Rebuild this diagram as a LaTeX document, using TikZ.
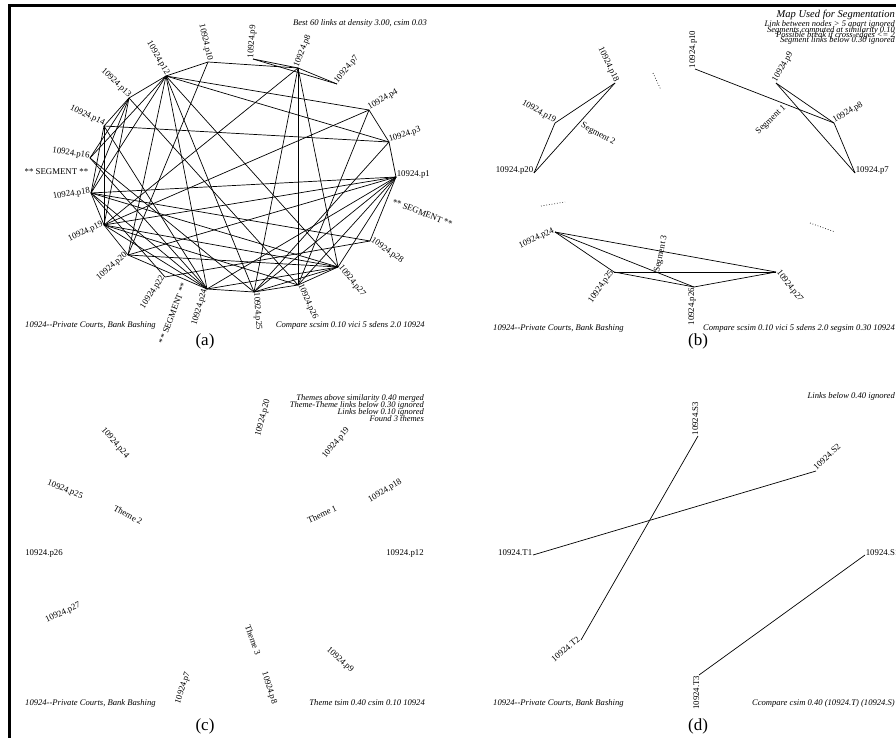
\documentclass[tikz,border=0pt]{standalone}
\usepackage{fontspec}
\setmainfont{Liberation Serif}
\begin{document}
\begin{tikzpicture}[x=1pt,y=-1pt,
  lab/.style={font=\fontsize{8.8}{9}\selectfont, inner sep=0.6pt},
  it/.style={font=\fontsize{8.6}{9}\selectfont\itshape, inner sep=0pt},
  sm/.style={font=\fontsize{8.5}{8}\selectfont\itshape, inner sep=0pt},
  big/.style={font=\fontsize{10.5}{11}\selectfont\itshape, inner sep=0pt},
  link/.style={line width=0.7pt},
  dotl/.style={line width=0.7pt, dotted},
  capt/.style={font=\fontsize{17}{17}\selectfont, inner sep=0pt},
  frame/.style={line width=2.7pt}]
\useasboundingbox (0,0) rectangle (896,738);
% frame
\coordinate (f1) at (9.7,738); \coordinate (f2) at (9.7,5.3); \coordinate (f3) at (896,5.3);
\draw[frame] (f1) -- (f2) -- (f3);

% ================= panel (a)
\foreach \n/\x/\y in {1/396/177, 3/389/142, 4/369/110, 7/337/84, 8/298/68, 9/253/59,
  10/208/62, 12/166/76, 13/129/98, 14/104/126, 16/90/158, 18/91/193, 19/104/225,
  20/128/255, 22/165/277, 24/207/289, 25/254/292, 26/298/285, 27/338/267, 28/370/241}
  \coordinate (p\n) at (\x,\y);
\foreach \a/\b in {12/10, 10/8, 9/8, 9/7, 8/7, 12/4, 12/3, 4/3, 3/1, 14/3,
  8/26, 8/27, 8/19, 8/25, 4/19, 4/26, 3/25, 10/20, 12/13, 13/14,
  14/19, 13/16, 13/18, 13/19, 13/26, 12/16, 12/18, 12/20, 12/24, 12/25,
  12/27, 14/18, 14/24, 16/24, 16/25, 18/19, 18/1, 18/28, 18/27, 18/24,
  19/1, 19/27, 19/20, 19/24, 20/24, 20/1, 22/28, 18/22, 24/25, 24/27,
  24/1, 25/26, 25/27, 25/1, 26/27, 26/1, 27/1, 28/1, 19/26, 20/27}
  \draw[link] (p\a) -- (p\b);
\foreach \n/\r in {1/0, 3/18, 4/30, 7/50, 8/68, 9/86, 28/-35, 27/-51, 26/-66, 25/-86}
  \node[lab, anchor=base west, rotate=\r] (La\n) at (p\n) {10924.p\n};
\foreach \n/\r in {10/-77, 12/-60, 13/-43, 14/-26, 16/-8, 18/9, 19/26, 20/41, 22/57, 24/74}
  \node[lab, anchor=base east, rotate=\r] (La\n) at (p\n) {10924.p\n};
\node[it, anchor=base east] (atop) at (427,26) {Best 60 links at density 3.00, csim 0.03};
\node[lab, anchor=base east] (segL) at (89,175) {** SEGMENT **};
\node[lab, anchor=base west, rotate=-21] (segR) at (391,204) {** SEGMENT **};
\node[lab, anchor=base east, rotate=69] (segB) at (187,284) {** SEGMENT **};
\node[it, anchor=base west] (abl) at (25,327) {10924{-}{-}Private Courts, Bank Bashing};
\node[it, anchor=base east] (abr) at (425,327) {Compare scsim 0.10 vici 5 sdens 2.0 10924};
\node[capt] (capa) at (205,341) {(a)};

% ================= panel (b)
\foreach \n/\x/\y in {18/615/83, 19/555/123, 20/534/173, 10/695/69, 9/776/83, 8/834/123,
  7/855/173, 24/555/232, 25/614/272, 26/694/287, 27/776/272}
  \coordinate (q\n) at (\x,\y);
\foreach \a/\b in {18/19, 18/20, 19/20, 10/8, 9/8, 9/7, 8/7,
  24/27, 24/25, 24/26, 25/27, 25/26, 26/27}
  \draw[link] (q\a) -- (q\b);
\foreach \n/\r in {10/90, 9/60, 8/30, 7/0, 27/-52}
  \node[lab, anchor=base west, rotate=\r] (Lb\n) at (q\n) {10924.p\n};
\foreach \n/\r in {18/-64, 19/-29, 20/0, 24/25, 25/55, 26/90}
  \node[lab, anchor=base east, rotate=\r] (Lb\n) at (q\n) {10924.p\n};
\node[lab, rotate=-28] (seg2) at (598,134) {Segment 2};
\node[lab, rotate=43] (seg1) at (771,120) {Segment 1};
\node[lab, rotate=78] (seg3) at (661,254) {Segment 3};
\coordinate (d1a) at (653,73); \coordinate (d1b) at (661,90);
\coordinate (d2a) at (541,206); \coordinate (d2b) at (565,202);
\coordinate (d3a) at (810,223); \coordinate (d3b) at (835,232);
\draw[dotl] (d1a) -- (d1b);
\draw[dotl] (d2a) -- (d2b);
\draw[dotl] (d3a) -- (d3b);
\node[big, anchor=base east] (bt0) at (895,18) {Map Used for Segmentation};
\node[sm, anchor=base east] (bt1) at (895,27) {Link between nodes > 5 apart ignored};
\node[sm, anchor=base east] (bt2) at (895,33) {Segments computed at similarity 0.10};
\node[sm, anchor=base east] (bt3) at (895,38) {Possible break if cross-edges <= 2};
\node[sm, anchor=base east] (bt4) at (895,43) {Segment links below 0.30 ignored};
\node[it, anchor=base west] (bbl) at (493,330) {10924{-}{-}Private Courts, Bank Bashing};
\node[it, anchor=base east] (bbr) at (895,330) {Compare scsim 0.10 vici 5 sdens 2.0 segsim 0.30 10924};
\node[capt] (capb) at (698,341) {(b)};

% ================= panel (c)
\node[sm, anchor=base east] (ct1) at (424,400) {Themes above similarity 0.40 merged};
\node[sm, anchor=base east] (ct2) at (424,407) {Theme-Theme links below 0.30 ignored};
\node[sm, anchor=base east] (ct3) at (424,414) {Links below 0.10 ignored};
\node[sm, anchor=base east] (ct4) at (424,421) {Found 3 themes};
\node[lab, rotate=75] (Lc20) at (263,418) {10924.p20};
\node[lab, rotate=50] (Lc19) at (336,443) {10924.p19};
\node[lab, rotate=31] (Lc18) at (385,491) {10924.p18};
\node[lab] (Lc12) at (405,554) {10924.p12};
\node[lab, rotate=-49] (Lc24) at (115,443) {10924.p24};
\node[lab, rotate=-22] (Lc25) at (65,490) {10924.p25};
\node[lab] (Lc26) at (44,554) {10924.p26};
\node[lab, rotate=25] (Lc27) at (63,613) {10924.p27};
\node[lab, rotate=72] (Lc7) at (183,688) {10924.p7};
\node[lab, rotate=-72] (Lc8) at (269,688) {10924.p8};
\node[lab, rotate=-42] (Lc9) at (340,660) {10924.p9};
\node[lab, rotate=25] (th1) at (322,514) {Theme 1};
\node[lab, rotate=-28] (th2) at (128,515) {Theme 2};
\node[lab, rotate=-70] (th3) at (253,640) {Theme 3};
\node[it, anchor=base west] (cbl) at (25,705) {10924{-}{-}Private Courts, Bank Bashing};
\node[it, anchor=base east] (cbr) at (425,705) {Theme tsim 0.40 csim 0.10 10924};
\node[capt] (capc) at (205,726) {(c)};

% ================= panel (d)
\coordinate (S3) at (698,436);
\coordinate (S2) at (816,471);
\coordinate (T1) at (533,555);
\coordinate (S1) at (865,555);
\coordinate (T2) at (581,640);
\coordinate (T3) at (699,675);
\draw[link] (T1) -- (S2);
\draw[link] (T2) -- (S3);
\draw[link] (T3) -- (S1);
\node[lab, anchor=base west, rotate=90] (LS3) at (S3) {10924.S3};
\node[lab, anchor=base west, rotate=43] (LS2) at (S2) {10924.S2};
\node[lab, anchor=base west] (LS1) at (S1) {10924.S1};
\node[lab, anchor=base east] (LT1) at (T1) {10924.T1};
\node[lab, anchor=base east, rotate=40] (LT2) at (T2) {10924.T2};
\node[lab, anchor=base east, rotate=90] (LT3) at (T3) {10924.T3};
\node[it, anchor=base east] (dt1) at (895,398) {Links below 0.40 ignored};
\node[it, anchor=base west] (dbl) at (493,705) {10924{-}{-}Private Courts, Bank Bashing};
\node[it, anchor=base east] (dbr) at (895,705) {Ccompare csim 0.40 (10924.T) (10924.S)};
\node[capt] (capd) at (698,726) {(d)};
\end{tikzpicture}
\end{document}
